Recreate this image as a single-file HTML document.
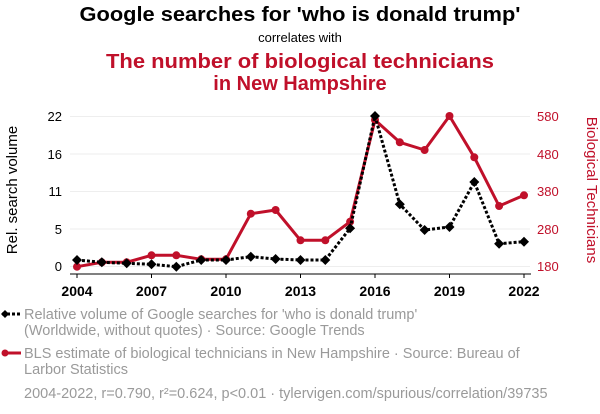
<!DOCTYPE html>
<html><head><style>
html,body{margin:0;padding:0;background:#fff;}
svg{display:block;font-family:"Liberation Sans",Arial,sans-serif;}
</style></head><body>
<svg width="600" height="414" viewBox="0 0 600 414" xmlns="http://www.w3.org/2000/svg">
<text x="300" y="21" text-anchor="middle" font-size="20" font-weight="bold" fill="#000" textLength="441" lengthAdjust="spacingAndGlyphs">Google searches for 'who is donald trump'</text>
<text x="300" y="42" text-anchor="middle" font-size="13" fill="#000">correlates with</text>
<text x="300" y="68" text-anchor="middle" font-size="20" font-weight="bold" fill="#c0102a" textLength="388" lengthAdjust="spacingAndGlyphs">The number of biological technicians</text>
<text x="300" y="90" text-anchor="middle" font-size="20" font-weight="bold" fill="#c0102a">in New Hampshire</text>

<g stroke="#eee" stroke-width="1">
<line x1="70" x2="530" y1="116.5" y2="116.5"/>
<line x1="70" x2="530" y1="154" y2="154"/>
<line x1="70" x2="530" y1="191.5" y2="191.5"/>
<line x1="70" x2="530" y1="229" y2="229"/>
<line x1="70" x2="530" y1="266.5" y2="266.5"/>
</g>
<line x1="70" x2="531" y1="274" y2="274" stroke="#000" stroke-width="1"/>
<g stroke="#000"><line x1="77" x2="77" y1="274" y2="278"/><line x1="151.5" x2="151.5" y1="274" y2="278"/><line x1="226" x2="226" y1="274" y2="278"/><line x1="300.5" x2="300.5" y1="274" y2="278"/><line x1="375" x2="375" y1="274" y2="278"/><line x1="449.5" x2="449.5" y1="274" y2="278"/><line x1="524" x2="524" y1="274" y2="278"/></g>

<g font-size="13" fill="#000" text-anchor="end">
<text x="62" y="121">22</text><text x="62" y="159">16</text><text x="62" y="196">11</text><text x="62" y="234">5</text><text x="62" y="271">0</text>
</g>
<g font-size="13" fill="#c0102a" text-anchor="start">
<text x="537" y="121">580</text><text x="537" y="159">480</text><text x="537" y="196">380</text><text x="537" y="234">280</text><text x="537" y="271">180</text>
</g>
<text transform="translate(17,190) rotate(-90)" text-anchor="middle" font-size="15" fill="#000">Rel. search volume</text>
<text transform="translate(587,190) rotate(90)" text-anchor="middle" font-size="15" fill="#c0102a">Biological Technicians</text>

<g font-size="14" font-weight="bold" fill="#000" text-anchor="middle">
<text x="77" y="296">2004</text><text x="151.5" y="296">2007</text><text x="226" y="296">2010</text><text x="300.5" y="296">2013</text><text x="375" y="296">2016</text><text x="449.5" y="296">2019</text><text x="524" y="296">2022</text>
</g>

<polyline fill="none" stroke="#c0102a" stroke-width="3" stroke-linejoin="round" points="77,266.7 101.8,262.3 126.7,262.3 151.5,255.3 176.3,255.3 201.2,259.3 226,259.3 250.8,213.7 275.6,210 300.5,240.3 325.3,240.3 350.1,221.7 375,120 399.8,142.3 424.6,150 449.5,116 474.3,157.3 499.1,206 524,195.3"/>
<g fill="#c0102a">
<circle cx="77" cy="266.7" r="4"/><circle cx="101.8" cy="262.3" r="4"/><circle cx="126.7" cy="262.3" r="4"/><circle cx="151.5" cy="255.3" r="4"/><circle cx="176.3" cy="255.3" r="4"/><circle cx="201.2" cy="259.3" r="4"/><circle cx="226" cy="259.3" r="4"/><circle cx="250.8" cy="213.7" r="4"/><circle cx="275.6" cy="210" r="4"/><circle cx="300.5" cy="240.3" r="4"/><circle cx="325.3" cy="240.3" r="4"/><circle cx="350.1" cy="221.7" r="4"/><circle cx="375" cy="120" r="4"/><circle cx="399.8" cy="142.3" r="4"/><circle cx="424.6" cy="150" r="4"/><circle cx="449.5" cy="116" r="4"/><circle cx="474.3" cy="157.3" r="4"/><circle cx="499.1" cy="206" r="4"/><circle cx="524" cy="195.3" r="4"/>
</g>

<polyline fill="none" stroke="#000" stroke-width="3" stroke-dasharray="3,2" points="77,260 101.8,262.3 126.7,263.3 151.5,264.3 176.3,266.7 201.2,260 226,260 250.8,256.7 275.6,259 300.5,260 325.3,260 350.1,228.3 375,116 399.8,204.3 424.6,230 449.5,227 474.3,182 499.1,243.7 524,241.7"/>
<g fill="#000">
<path d="M77,255l5,5l-5,5l-5,-5z M101.8,257.3l5,5l-5,5l-5,-5z M126.7,258.3l5,5l-5,5l-5,-5z M151.5,259.3l5,5l-5,5l-5,-5z M176.3,261.7l5,5l-5,5l-5,-5z M201.2,255l5,5l-5,5l-5,-5z M226,255l5,5l-5,5l-5,-5z M250.8,251.7l5,5l-5,5l-5,-5z M275.6,254l5,5l-5,5l-5,-5z M300.5,255l5,5l-5,5l-5,-5z M325.3,255l5,5l-5,5l-5,-5z M350.1,223.3l5,5l-5,5l-5,-5z M375,111l5,5l-5,5l-5,-5z M399.8,199.3l5,5l-5,5l-5,-5z M424.6,225l5,5l-5,5l-5,-5z M449.5,222l5,5l-5,5l-5,-5z M474.3,177l5,5l-5,5l-5,-5z M499.1,238.7l5,5l-5,5l-5,-5z M524,236.7l5,5l-5,5l-5,-5z"/>
</g>

<line x1="2" x2="21" y1="314" y2="314" stroke="#000" stroke-width="3" stroke-dasharray="3,2"/>
<path d="M5,310l4,4l-4,4l-4,-4z" fill="#000"/>
<line x1="2" x2="21" y1="353" y2="353" stroke="#c0102a" stroke-width="3"/>
<circle cx="5" cy="353" r="3.5" fill="#c0102a"/>
<g font-size="14.5" fill="#9a9a9a">
<text x="24" y="319">Relative volume of Google searches for 'who is donald trump'</text>
<text x="24" y="335">(Worldwide, without quotes) · Source: Google Trends</text>
<text x="24" y="358">BLS estimate of biological technicians in New Hampshire · Source: Bureau of</text>
<text x="24" y="374">Larbor Statistics</text>
<text x="24" y="398">2004-2022, r=0.790, r²=0.624, p&lt;0.01 · tylervigen.com/spurious/correlation/39735</text>
</g>
</svg>
</body></html>
